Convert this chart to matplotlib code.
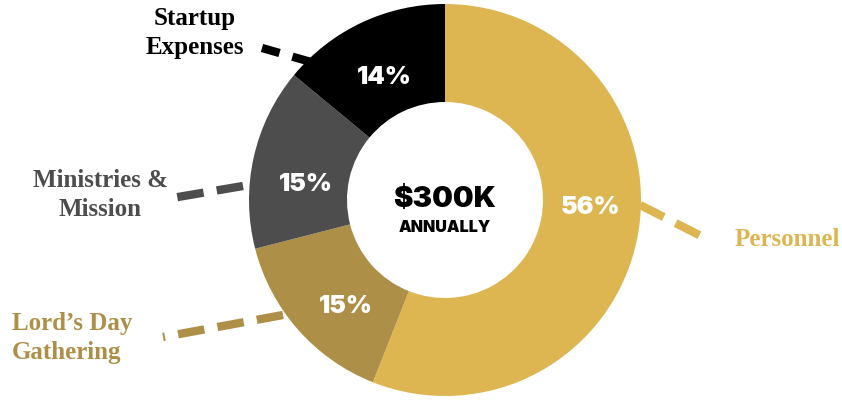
import matplotlib
matplotlib.use("Agg")
import matplotlib.pyplot as plt

# budget breakdown, clockwise from the top
categories = ["Personnel", "Lord\u2019s Day\nGathering", "Ministries &\nMission", "Startup\nExpenses"]
shares = [56, 15, 15, 14]
pct_labels = ["56%", "15%", "15%", "14%"]
colors = ["#DDB652", "#AD8F47", "#4D4D4D", "#000000"]
total_label = "$300K"
total_sub = "ANNUALLY"

W, H = 842, 402
fig = plt.figure(figsize=(W / 100, H / 100), dpi=100)
ax = fig.add_axes([0, 0, 1, 1])

# work in pixel coords, y measured from the top
def py(y):
    return H - y

cx, cy = 445, 201
R = 196
ax.pie(shares, colors=colors, radius=R, center=(cx, py(cy)), startangle=90,
       counterclock=False, wedgeprops=dict(width=98, linewidth=0))
ax.set_xlim(0, W)
ax.set_ylim(0, H)
ax.set_aspect("equal")
ax.axis("off")

sans = ["Inter", "DejaVu Sans"]
serif = ["Liberation Serif", "DejaVu Serif"]

# percent labels inside the ring
pct_pos = [(591, 208), (346, 307), (306, 185), (384, 77)]
for (x, y), t in zip(pct_pos, pct_labels):
    ax.text(x, py(y), t, color="white", fontsize=18, fontweight=900,
            family=sans, ha="center", va="center")

# centre
ax.text(cx, py(200), total_label, fontsize=21, fontweight=900, family=sans,
        ha="center", va="center", color="black")
ax.text(cx, py(228), total_sub, fontsize=11.5, fontweight=900, family=sans,
        ha="center", va="center", color="black")

# outside labels with dashed leaders
label_pos = [(787, 240, "center"), (12, 338, "left"), (100, 195, "center"), (195, 33, "center")]
leaders = [((640, 206), (703, 238)),
           ((283, 316), (163, 338)),
           ((243, 187), (172, 199)),
           ((318, 65), (262, 49))]
for cat, col, (x, y, ha), (p0, p1) in zip(categories, colors, label_pos, leaders):
    ax.text(x, py(y), cat, color=col, fontsize=18, fontweight="bold", family=serif,
            ha=ha, va="center", linespacing=1.32)
    ax.plot([p0[0], p1[0]], [py(p0[1]), py(p1[1])], color=col, lw=6,
            dashes=(3.2, 1.6), solid_capstyle="butt", dash_capstyle="butt")

fig.savefig("out.png", dpi=100)
